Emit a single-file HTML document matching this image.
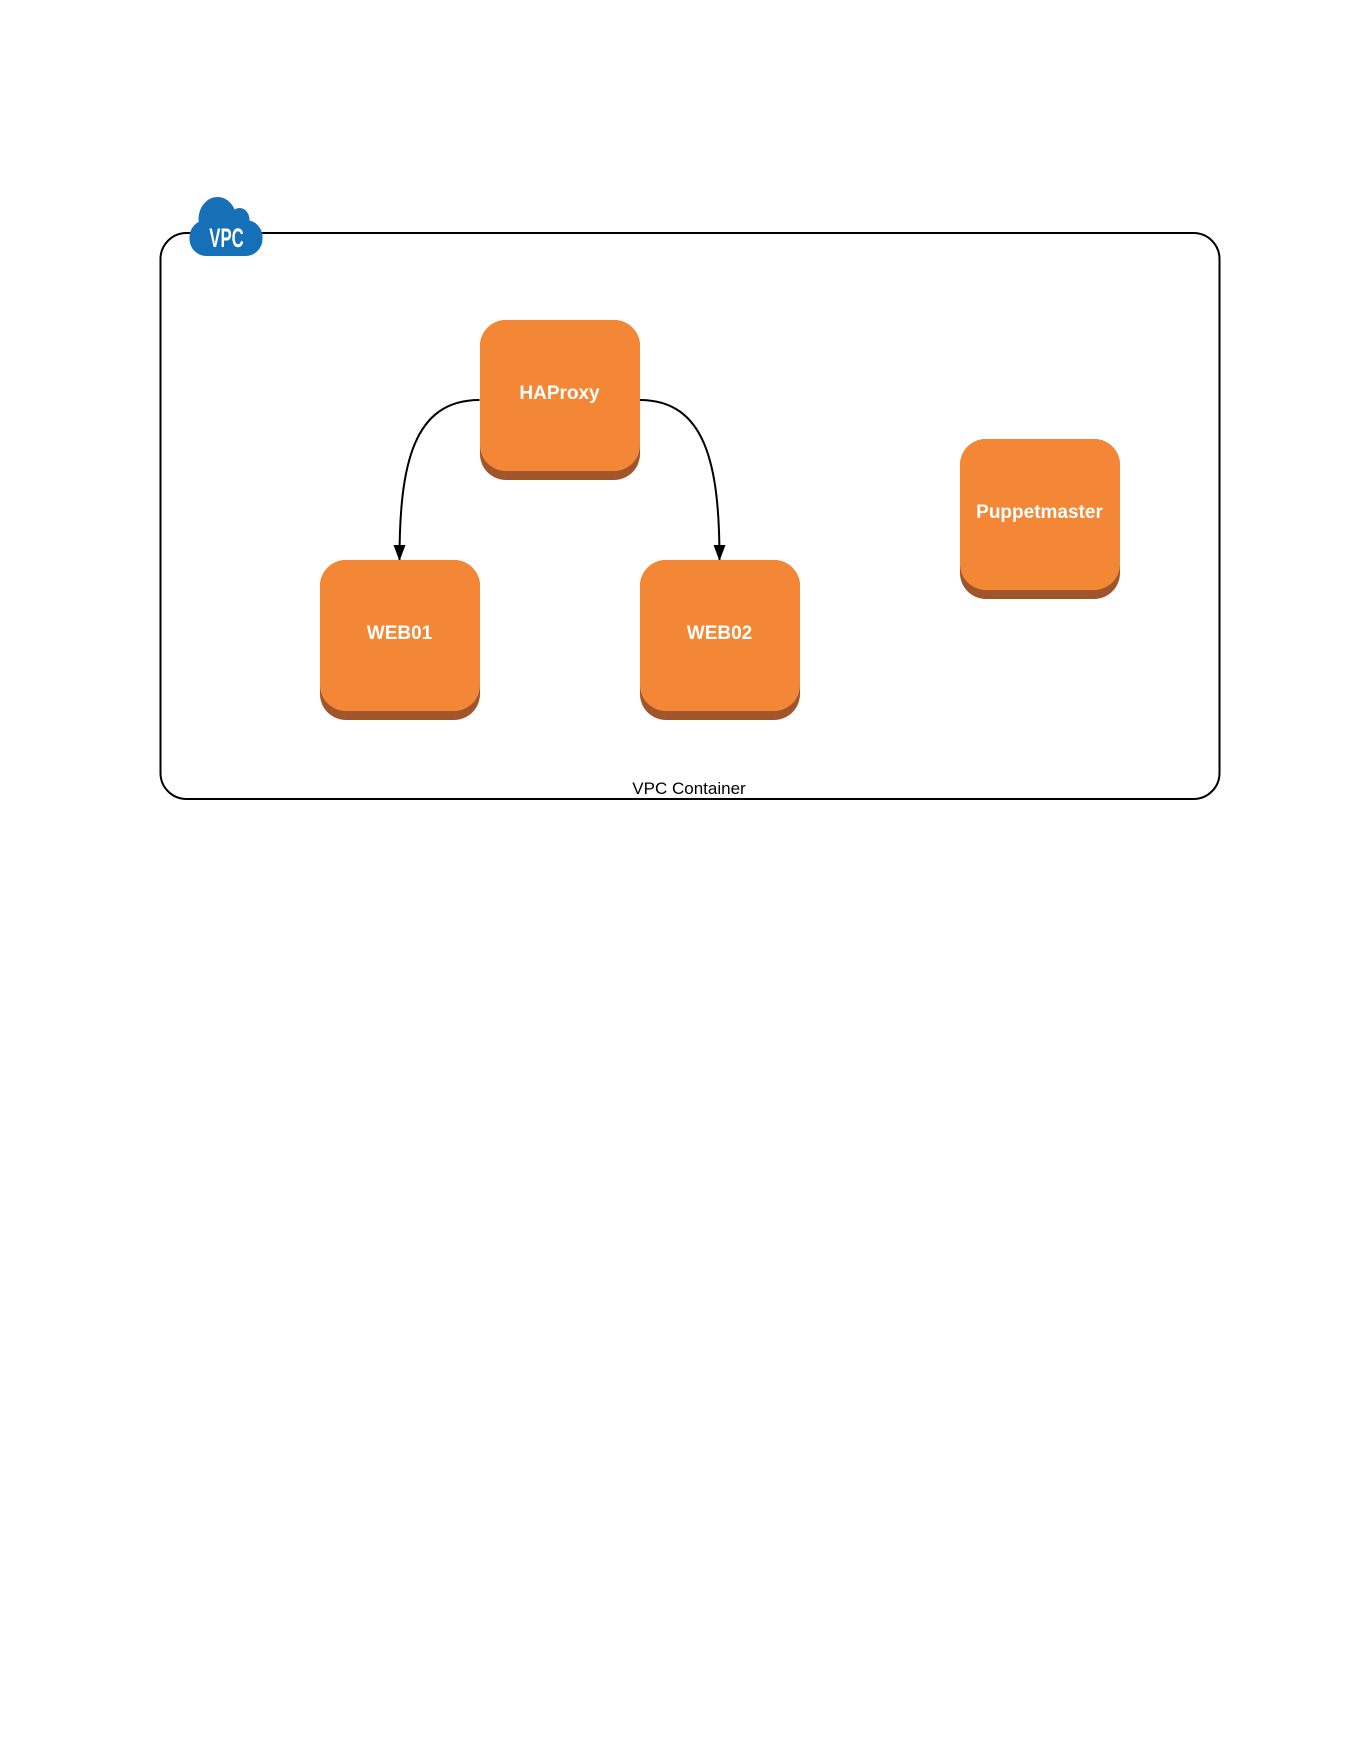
<!DOCTYPE html>
<html><head><style>
html,body{margin:0;padding:0;background:#fff;}
body{width:1360px;height:1760px;position:relative;overflow:hidden;font-family:"Liberation Sans",sans-serif;}
.n{position:absolute;width:160px;height:160px;border-radius:26px;background:#a0562a;}
.n .t{position:absolute;left:0;top:0;width:160px;height:151px;border-radius:26px;background:#f48736;color:#fff;font-weight:bold;font-size:19px;text-align:center;line-height:148px;}
</style></head><body>
<svg width="1360" height="1760" style="position:absolute;left:0;top:0">
<rect x="160.5" y="233" width="1059" height="566" rx="26" fill="none" stroke="#000" stroke-width="2"/>
<path d="M479.5,400 C413.5,400 399.5,464 399.5,560" fill="none" stroke="#000" stroke-width="2"/>
<path d="M639.5,400 C705.5,400 719.5,464 719.5,560" fill="none" stroke="#000" stroke-width="2"/>
<path d="M393.5,545 L405.5,545 L399.5,561 Z" fill="#000"/>
<path d="M713.5,545 L725.5,545 L719.5,561 Z" fill="#000"/>
<g fill="#1570b8">
<ellipse cx="217.5" cy="219" rx="19" ry="22"/>
<ellipse cx="239.5" cy="220" rx="10" ry="12"/>
<rect x="189.5" y="220" width="73" height="36" rx="17"/>
</g>
<text x="226.5" y="247" fill="#fff" font-family="Liberation Sans,sans-serif" font-weight="bold" font-size="27" text-anchor="middle" transform="translate(226.5,0) scale(0.62,1) translate(-226.5,0)">VPC</text>
<text x="689" y="794" font-size="17" text-anchor="middle" fill="#000">VPC Container</text>
</svg>
<div class="n" style="left:479.5px;top:320px"><div class="t">HAProxy</div></div>
<div class="n" style="left:319.5px;top:560px"><div class="t">WEB01</div></div>
<div class="n" style="left:639.5px;top:560px"><div class="t">WEB02</div></div>
<div class="n" style="left:959.5px;top:439px"><div class="t">Puppetmaster</div></div>
</body></html>
